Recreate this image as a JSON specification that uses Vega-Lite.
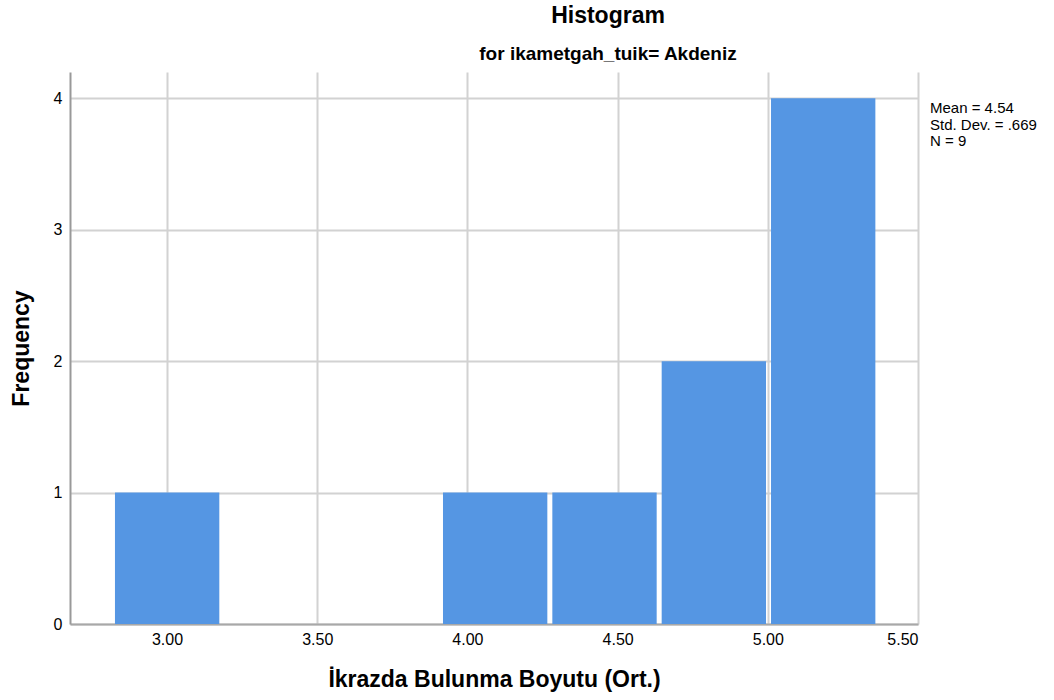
{
  "$schema": "https://vega.github.io/schema/vega-lite/v6.json",
  "autosize": {"type": "none"},
  "padding": {"left": 70, "top": 72, "right": 136, "bottom": 76},
  "width": 848,
  "height": 552,
  "background": "white",
  "config": {
    "font": "Liberation Sans",
    "view": {"stroke": null}
  },
  "title": {
    "text": "Histogram",
    "subtitle": "for ikametgah_tuik= Akdeniz",
    "anchor": "middle",
    "frame": "group",
    "dx": 114,
    "fontSize": 23,
    "fontWeight": "bold",
    "color": "#000000",
    "subtitleFontSize": 19,
    "subtitleFontWeight": "bold",
    "subtitleColor": "#000000",
    "subtitlePadding": 17,
    "offset": 8
  },
  "layer": [
    {
      "data": {
        "values": [
          {"bin_start": 2.8267, "bin_end": 3.1907, "count": 1},
          {"bin_start": 3.9187, "bin_end": 4.2827, "count": 1},
          {"bin_start": 4.2827, "bin_end": 4.6467, "count": 1},
          {"bin_start": 4.6467, "bin_end": 5.0107, "count": 2},
          {"bin_start": 5.0107, "bin_end": 5.3747, "count": 4}
        ]
      },
      "mark": {"type": "bar", "color": "#5596e3", "x2Offset": -5, "cornerRadius": 0},
      "encoding": {
        "x": {
          "field": "bin_start",
          "type": "quantitative",
          "scale": {"domain": [2.677, 5.5], "nice": false, "zero": false},
          "axis": {
            "title": "İkrazda Bulunma Boyutu (Ort.)",
            "values": [3, 3.5, 4, 4.5, 5, 5.5],
            "format": ".2f",
            "ticks": false,
            "labelPadding": 7,
            "labelFontSize": 16,
            "labelColor": "#000000",
            "titleFontSize": 23,
            "titleFontWeight": "bold",
            "titleColor": "#000000",
            "titlePadding": 21,
            "domainColor": "#a8a8a8",
            "domainWidth": 2,
            "gridColor": "#d2d2d2",
            "gridWidth": 2,
            "gridOpacity": 1
          }
        },
        "x2": {"field": "bin_end"},
        "y": {
          "field": "count",
          "type": "quantitative",
          "scale": {"domain": [0, 4.2], "nice": false, "zero": true},
          "axis": {
            "title": "Frequency",
            "values": [0, 1, 2, 3, 4],
            "format": "d",
            "ticks": false,
            "labelPadding": 8,
            "labelFontSize": 16,
            "labelColor": "#000000",
            "titleFontSize": 23,
            "titleFontWeight": "bold",
            "titleColor": "#000000",
            "titlePadding": 20,
            "domainColor": "#999999",
            "domainWidth": 2,
            "gridColor": "#d2d2d2",
            "gridWidth": 2,
            "gridOpacity": 1
          }
        },
        "y2": {"datum": 0}
      }
    },
    {
      "data": {
        "values": [
          {"label": ["Mean = 4.54", "Std. Dev. = .669", "N = 9"]}
        ]
      },
      "mark": {
        "type": "text",
        "align": "left",
        "baseline": "top",
        "dx": 12,
        "dy": 3,
        "fontSize": 15,
        "lineHeight": 16.5,
        "color": "#000000"
      },
      "encoding": {
        "x": {"datum": 5.5, "type": "quantitative"},
        "y": {"datum": 4, "type": "quantitative"},
        "text": {"field": "label", "type": "nominal"}
      }
    }
  ]
}
